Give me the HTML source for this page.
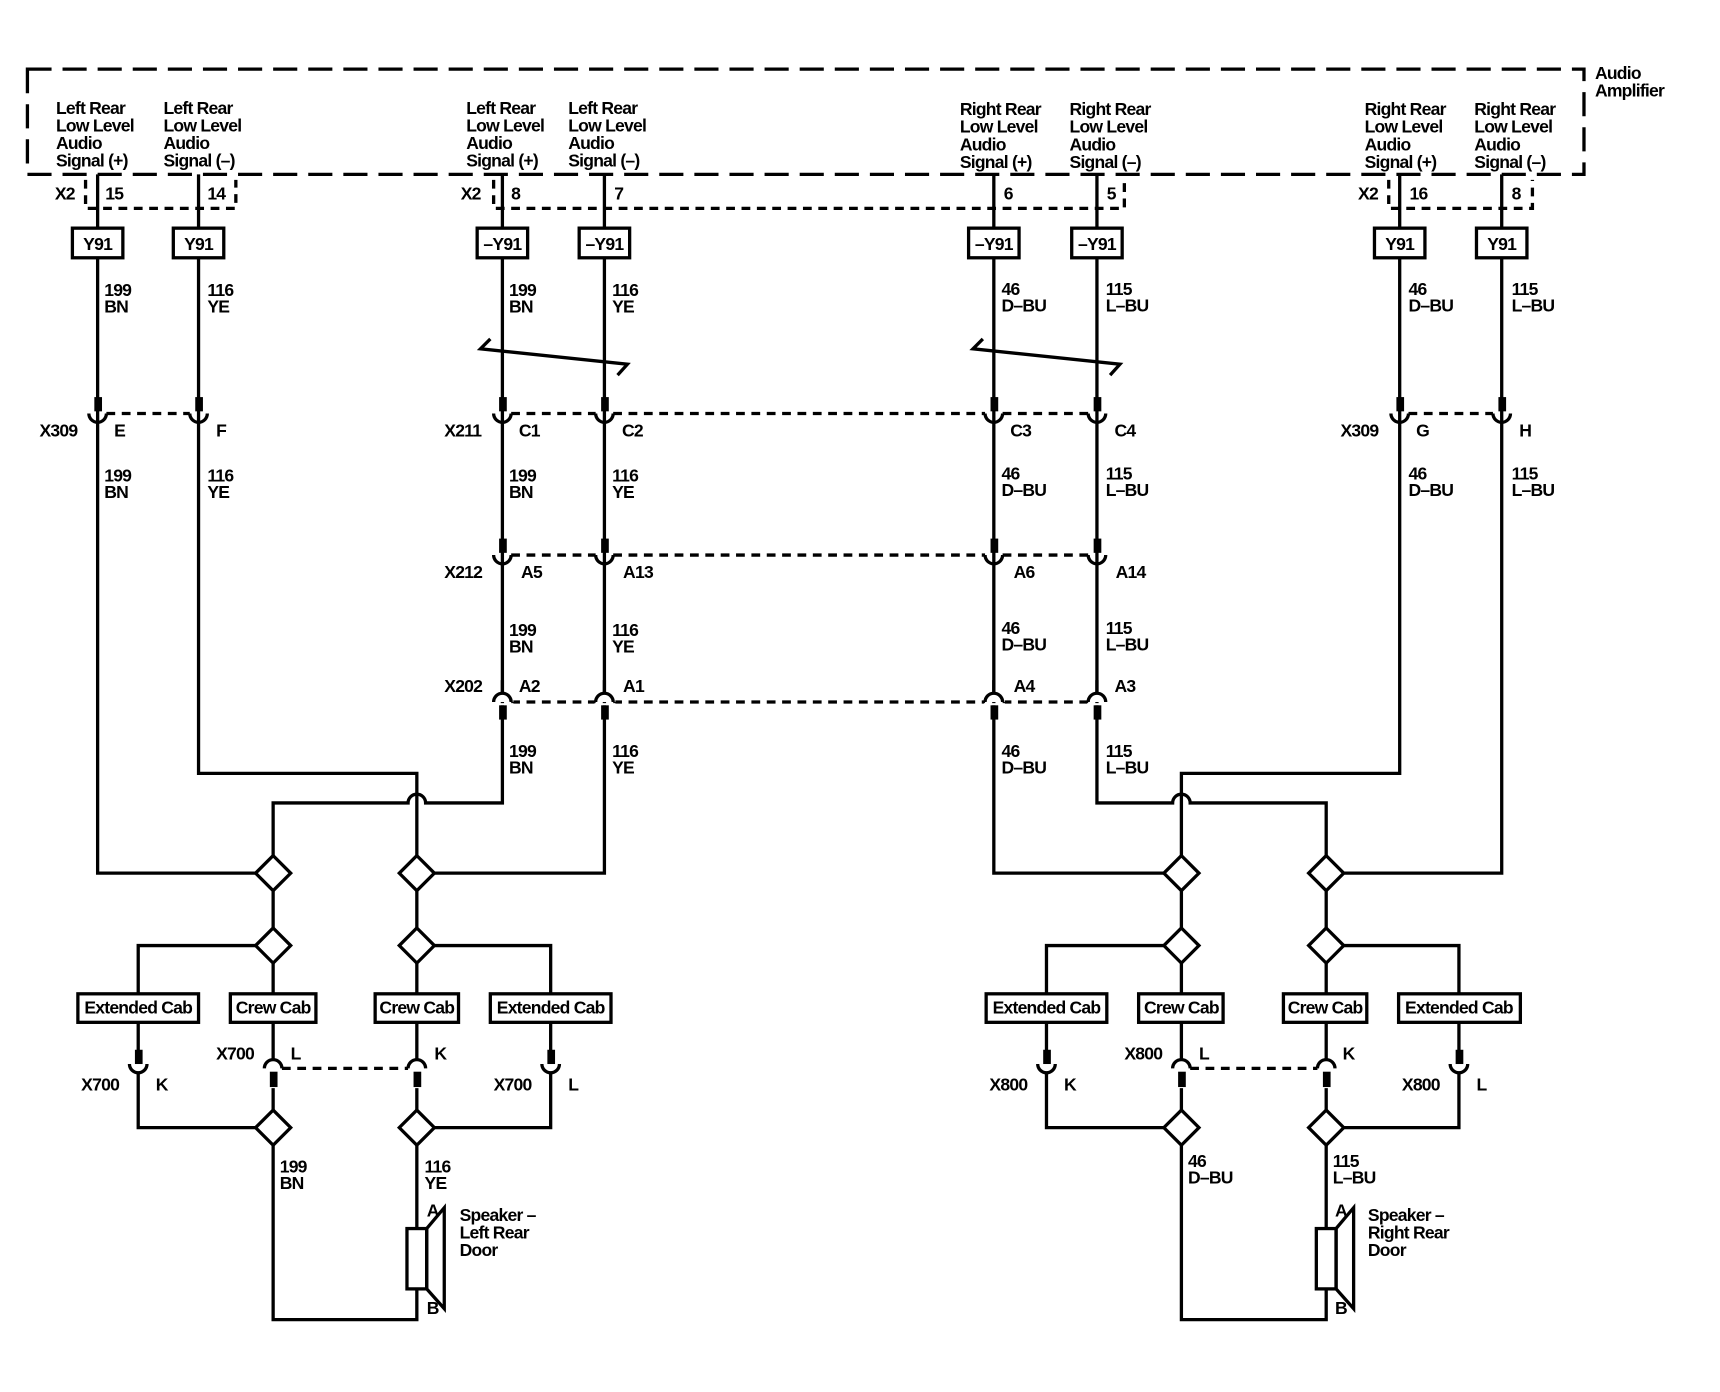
<!DOCTYPE html>
<html><head><meta charset="utf-8"><style>
html,body{margin:0;padding:0;background:#fff}
svg{display:block}
text{font-family:"Liberation Sans",Arial,sans-serif;font-size:16px;font-weight:bold;fill:#000;letter-spacing:-0.7px}
.w{stroke:#000;stroke-width:3;fill:none}
.dot{stroke:#000;stroke-width:3;fill:none;stroke-dasharray:8 6}
.box{stroke:#000;stroke-width:3;fill:#fff}
.dm{stroke:#000;stroke-width:3;fill:#fff}
</style></head><body>
<svg width="1720" height="1392" viewBox="0 0 1568 1269" preserveAspectRatio="none" xmlns="http://www.w3.org/2000/svg">
<rect x="25" y="63" width="1419" height="96" fill="none" stroke="#000" stroke-width="3" stroke-dasharray="22 10"/>
<text x="1454" y="72">Audio</text><text x="1454" y="88">Amplifier</text>

<g>
<text x="51" y="104">Left Rear</text><text x="51" y="120">Low Level</text><text x="51" y="136">Audio</text><text x="51" y="152">Signal (+)</text>
<text x="149" y="104">Left Rear</text><text x="149" y="120">Low Level</text><text x="149" y="136">Audio</text><text x="149" y="152">Signal (–)</text>
<text x="425" y="104">Left Rear</text><text x="425" y="120">Low Level</text><text x="425" y="136">Audio</text><text x="425" y="152">Signal (+)</text>
<text x="518" y="104">Left Rear</text><text x="518" y="120">Low Level</text><text x="518" y="136">Audio</text><text x="518" y="152">Signal (–)</text>
<text x="875" y="105">Right Rear</text><text x="875" y="121">Low Level</text><text x="875" y="137">Audio</text><text x="875" y="153">Signal (+)</text>
<text x="975" y="105">Right Rear</text><text x="975" y="121">Low Level</text><text x="975" y="137">Audio</text><text x="975" y="153">Signal (–)</text>
<text x="1244" y="105">Right Rear</text><text x="1244" y="121">Low Level</text><text x="1244" y="137">Audio</text><text x="1244" y="153">Signal (+)</text>
<text x="1344" y="105">Right Rear</text><text x="1344" y="121">Low Level</text><text x="1344" y="137">Audio</text><text x="1344" y="153">Signal (–)</text>
</g>

<text x="50" y="182">X2</text><text x="96" y="182">15</text><text x="189" y="182">14</text>
<path class="dot" d="M78 164 V190 H215 V164"/>
<text x="420" y="182">X2</text><text x="466" y="182">8</text><text x="560" y="182">7</text>
<text x="915" y="182">6</text><text x="1009" y="182">5</text>
<path class="dot" d="M450 164 V190 H1025 V164"/>
<text x="1238" y="182">X2</text><text x="1285" y="182">16</text><text x="1378" y="182">8</text>
<path class="dot" d="M1266 164 V190 H1397 V164"/>

<path class="w" d="M89 159 V796 H233"/>
<path class="w" d="M181 159 V705 H380 V780"/>
<path class="w" d="M458 159 V732 H388 A8 8 0 0 0 372 732 H249 V780"/>
<path class="w" d="M551 159 V796 H396"/>
<path class="w" d="M906 159 V796 H1061"/>
<path class="w" d="M1000 159 V732 H1069 A8 8 0 0 1 1085 732 H1209 V780"/>
<path class="w" d="M1276 159 V705 H1077 V780"/>
<path class="w" d="M1369 159 V796 H1225"/>

<g>
<rect class="box" x="66" y="208" width="46" height="27"/><text x="89" y="228" text-anchor="middle">Y91</text>
<rect class="box" x="158" y="208" width="46" height="27"/><text x="181" y="228" text-anchor="middle">Y91</text>
<rect class="box" x="435" y="208" width="46" height="27"/><text x="458" y="228" text-anchor="middle">–Y91</text>
<rect class="box" x="528" y="208" width="46" height="27"/><text x="551" y="228" text-anchor="middle">–Y91</text>
<rect class="box" x="883" y="208" width="46" height="27"/><text x="906" y="228" text-anchor="middle">–Y91</text>
<rect class="box" x="977" y="208" width="46" height="27"/><text x="1000" y="228" text-anchor="middle">–Y91</text>
<rect class="box" x="1253" y="208" width="46" height="27"/><text x="1276" y="228" text-anchor="middle">Y91</text>
<rect class="box" x="1346" y="208" width="46" height="27"/><text x="1369" y="228" text-anchor="middle">Y91</text>
</g>

<g>
<text x="95" y="270">199</text><text x="95" y="285">BN</text>
<text x="189" y="270">116</text><text x="189" y="285">YE</text>
<text x="464" y="270">199</text><text x="464" y="285">BN</text>
<text x="558" y="270">116</text><text x="558" y="285">YE</text>
<text x="913" y="269">46</text><text x="913" y="284">D–BU</text>
<text x="1008" y="269">115</text><text x="1008" y="284">L–BU</text>
<text x="1284" y="269">46</text><text x="1284" y="284">D–BU</text>
<text x="1378" y="269">115</text><text x="1378" y="284">L–BU</text>
</g>

<path class="w" d="M447 309 L438 318 L572 332 L563 342"/>
<path class="w" d="M896 309 L887 318 L1021 332 L1012 342"/>

<path class="dot" d="M97 377 H173"/>
<path class="dot" d="M466 377 H543 M559 377 H898"/>
<path class="dot" d="M914 377 H992"/>
<path class="dot" d="M1284 377 H1361"/>
<g fill="#000">
<rect x="86" y="362" width="7" height="13"/><rect x="178" y="362" width="7" height="13"/>
<rect x="455" y="362" width="7" height="13"/><rect x="548" y="362" width="7" height="13"/>
<rect x="903" y="362" width="7" height="13"/><rect x="997" y="362" width="7" height="13"/>
<rect x="1273" y="362" width="7" height="13"/><rect x="1366" y="362" width="7" height="13"/>
</g>
<g class="w">
<path d="M81 377 A8 8 0 0 0 97 377"/><path d="M173 377 A8 8 0 0 0 189 377"/>
<path d="M450 377 A8 8 0 0 0 466 377"/><path d="M543 377 A8 8 0 0 0 559 377"/>
<path d="M898 377 A8 8 0 0 0 914 377"/><path d="M992 377 A8 8 0 0 0 1008 377"/>
<path d="M1268 377 A8 8 0 0 0 1284 377"/><path d="M1361 377 A8 8 0 0 0 1377 377"/>
</g>
<text x="36" y="398">X309</text><text x="104" y="398">E</text><text x="197" y="398">F</text>
<text x="405" y="398">X211</text><text x="473" y="398">C1</text><text x="567" y="398">C2</text>
<text x="921" y="398">C3</text><text x="1016" y="398">C4</text>
<text x="1222" y="398">X309</text><text x="1291" y="398">G</text><text x="1385" y="398">H</text>

<g>
<text x="95" y="439">199</text><text x="95" y="454">BN</text>
<text x="189" y="439">116</text><text x="189" y="454">YE</text>
<text x="464" y="439">199</text><text x="464" y="454">BN</text>
<text x="558" y="439">116</text><text x="558" y="454">YE</text>
<text x="913" y="437">46</text><text x="913" y="452">D–BU</text>
<text x="1008" y="437">115</text><text x="1008" y="452">L–BU</text>
<text x="1284" y="437">46</text><text x="1284" y="452">D–BU</text>
<text x="1378" y="437">115</text><text x="1378" y="452">L–BU</text>
</g>

<path class="dot" d="M466 506 H543 M559 506 H898 M914 506 H992"/>
<g fill="#000">
<rect x="455" y="491" width="7" height="13"/><rect x="548" y="491" width="7" height="13"/>
<rect x="903" y="491" width="7" height="13"/><rect x="997" y="491" width="7" height="13"/>
</g>
<g class="w">
<path d="M450 506 A8 8 0 0 0 466 506"/><path d="M543 506 A8 8 0 0 0 559 506"/>
<path d="M898 506 A8 8 0 0 0 914 506"/><path d="M992 506 A8 8 0 0 0 1008 506"/>
</g>
<text x="405" y="527">X212</text><text x="475" y="527">A5</text><text x="568" y="527">A13</text>
<text x="924" y="527">A6</text><text x="1017" y="527">A14</text>

<g>
<text x="464" y="580">199</text><text x="464" y="595">BN</text>
<text x="558" y="580">116</text><text x="558" y="595">YE</text>
<text x="913" y="578">46</text><text x="913" y="593">D–BU</text>
<text x="1008" y="578">115</text><text x="1008" y="593">L–BU</text>
</g>

<path class="dot" d="M466 640 H543 M559 640 H898 M914 640 H992"/>
<g fill="#fff">
<rect x="449" y="632" width="19" height="8"/>
<rect x="542" y="632" width="19" height="8"/>
<rect x="897" y="632" width="19" height="8"/>
<rect x="991" y="632" width="19" height="8"/>
</g>
<g class="w">
<path d="M450 640 A8 8 0 0 1 466 640"/><path d="M543 640 A8 8 0 0 1 559 640"/>
<path d="M898 640 A8 8 0 0 1 914 640"/><path d="M992 640 A8 8 0 0 1 1008 640"/>
<path d="M458 620 V632 M551 620 V632 M906 620 V632 M1000 620 V632"/>
</g>
<rect x="449" y="641" width="19" height="2" fill="#fff"/>
<rect x="542" y="641" width="19" height="2" fill="#fff"/>
<rect x="897" y="641" width="19" height="2" fill="#fff"/>
<rect x="991" y="641" width="19" height="2" fill="#fff"/>
<g fill="#000">
<rect x="455" y="643" width="7" height="13"/><rect x="548" y="643" width="7" height="13"/>
<rect x="903" y="643" width="7" height="13"/><rect x="997" y="643" width="7" height="13"/>
</g>
<text x="405" y="631">X202</text><text x="473" y="631">A2</text><text x="568" y="631">A1</text>
<text x="924" y="631">A4</text><text x="1016" y="631">A3</text>

<g>
<text x="464" y="690">199</text><text x="464" y="705">BN</text>
<text x="558" y="690">116</text><text x="558" y="705">YE</text>
<text x="913" y="690">46</text><text x="913" y="705">D–BU</text>
<text x="1008" y="690">115</text><text x="1008" y="705">L–BU</text>
</g>

<path class="w" d="M249 812 V846 M380 812 V846"/>
<path class="w" d="M233 862 H126 V906 M396 862 H502 V906 M249 878 V906 M380 878 V906"/>
<path class="w" d="M126 933 V970 M126 978 V1028 H233"/>
<path class="w" d="M502 933 V970 M502 978 V1028 H396"/>
<path class="w" d="M249 933 V966 M249 992 V1012 M380 933 V966 M380 992 V1012"/>
<path class="w" d="M249 1044 V1203 H380 V1175 M380 1044 V1120"/>
<rect class="box" x="371" y="1120" width="18" height="55"/>
<polygon class="w" points="389,1120 405,1101 405,1193 389,1175"/>
<text x="389" y="1109">A</text><text x="389" y="1198">B</text>
<text x="419" y="1113">Speaker –</text><text x="419" y="1129">Left Rear</text><text x="419" y="1145">Door</text>
<text x="255" y="1069">199</text><text x="255" y="1084">BN</text>
<text x="387" y="1069">116</text><text x="387" y="1084">YE</text>

<path class="w" d="M1077 812 V846 M1209 812 V846"/>
<path class="w" d="M1061 862 H954 V906 M1225 862 H1330 V906 M1077 878 V906 M1209 878 V906"/>
<path class="w" d="M954 933 V970 M954 978 V1028 H1061"/>
<path class="w" d="M1330 933 V970 M1330 978 V1028 H1225"/>
<path class="w" d="M1077 933 V966 M1077 992 V1012 M1209 933 V966 M1209 992 V1012"/>
<path class="w" d="M1077 1044 V1203 H1209 V1175 M1209 1044 V1120"/>
<rect class="box" x="1200" y="1120" width="18" height="55"/>
<polygon class="w" points="1218,1120 1234,1101 1234,1193 1218,1175"/>
<text x="1217" y="1109">A</text><text x="1217" y="1198">B</text>
<text x="1247" y="1113">Speaker –</text><text x="1247" y="1129">Right Rear</text><text x="1247" y="1145">Door</text>
<text x="1083" y="1064">46</text><text x="1083" y="1079">D–BU</text>
<text x="1215" y="1064">115</text><text x="1215" y="1079">L–BU</text>

<g class="dm">
<polygon points="249,780 265,796 249,812 233,796"/><polygon points="380,780 396,796 380,812 364,796"/>
<polygon points="249,846 265,862 249,878 233,862"/><polygon points="380,846 396,862 380,878 364,862"/>
<polygon points="249,1012 265,1028 249,1044 233,1028"/><polygon points="380,1012 396,1028 380,1044 364,1028"/>
<polygon points="1077,780 1093,796 1077,812 1061,796"/><polygon points="1209,780 1225,796 1209,812 1193,796"/>
<polygon points="1077,846 1093,862 1077,878 1061,862"/><polygon points="1209,846 1225,862 1209,878 1193,862"/>
<polygon points="1077,1012 1093,1028 1077,1044 1061,1028"/><polygon points="1209,1012 1225,1028 1209,1044 1193,1028"/>
</g>

<g>
<rect class="box" x="71" y="906" width="110" height="26"/><text x="126" y="924" text-anchor="middle">Extended Cab</text>
<rect class="box" x="210" y="906" width="78" height="26"/><text x="249" y="924" text-anchor="middle">Crew Cab</text>
<rect class="box" x="342" y="906" width="76" height="26"/><text x="380" y="924" text-anchor="middle">Crew Cab</text>
<rect class="box" x="447" y="906" width="110" height="26"/><text x="502" y="924" text-anchor="middle">Extended Cab</text>
<rect class="box" x="899" y="906" width="110" height="26"/><text x="954" y="924" text-anchor="middle">Extended Cab</text>
<rect class="box" x="1038" y="906" width="77" height="26"/><text x="1077" y="924" text-anchor="middle">Crew Cab</text>
<rect class="box" x="1170" y="906" width="76" height="26"/><text x="1208" y="924" text-anchor="middle">Crew Cab</text>
<rect class="box" x="1275" y="906" width="111" height="26"/><text x="1330" y="924" text-anchor="middle">Extended Cab</text>
</g>

<path class="dot" d="M257 974 H372"/>
<path class="dot" d="M1085 974 H1201"/>
<g fill="#000">
<rect x="123" y="957" width="7" height="13"/><rect x="499" y="957" width="7" height="13"/>
<rect x="951" y="957" width="7" height="13"/><rect x="1327" y="957" width="7" height="13"/>
<rect x="246" y="977" width="7" height="14"/><rect x="377" y="977" width="7" height="14"/>
<rect x="1074" y="977" width="7" height="14"/><rect x="1206" y="977" width="7" height="14"/>
</g>
<g class="w">
<path d="M118 970 A8 8 0 0 0 134 970"/><path d="M494 970 A8 8 0 0 0 510 970"/>
<path d="M946 970 A8 8 0 0 0 962 970"/><path d="M1322 970 A8 8 0 0 0 1338 970"/>
<path d="M241 974 A8 8 0 0 1 257 974"/><path d="M372 974 A8 8 0 0 1 388 974"/>
<path d="M1069 974 A8 8 0 0 1 1085 974"/><path d="M1201 974 A8 8 0 0 1 1217 974"/>
</g>
<text x="74" y="994">X700</text><text x="142" y="994">K</text>
<text x="197" y="966">X700</text><text x="265" y="966">L</text>
<text x="396" y="966">K</text>
<text x="450" y="994">X700</text><text x="518" y="994">L</text>
<text x="902" y="994">X800</text><text x="970" y="994">K</text>
<text x="1025" y="966">X800</text><text x="1093" y="966">L</text>
<text x="1224" y="966">K</text>
<text x="1278" y="994">X800</text><text x="1346" y="994">L</text>
</svg>
</body></html>
